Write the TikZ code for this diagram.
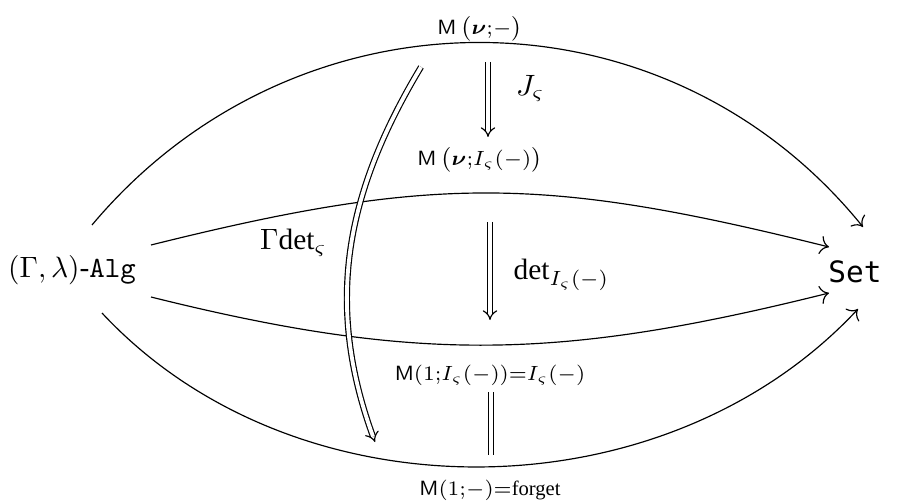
\documentclass[tikz,border=0pt]{standalone}
\usepackage{amsmath}
\usepackage{fontspec}
\setmainfont{Liberation Serif}
\newfontfamily\setfnt{DejaVu Sans Mono}
\usetikzlibrary{arrows.meta}

\tikzset{
  fun/.style={-{To[length=3pt]}},
  nat/.style={double, double distance=1.3pt, -Implies},
  eqn/.style={double, double distance=1.3pt},
  cell/.style={font=\scriptsize, inner sep=1pt},
}

\begin{document}
\begin{tikzpicture}[x=0.34pt,y=0.34pt]
\useasboundingbox (0,0) rectangle (899,502);
% the two categories
\node (alg) at (72,232) {$(\Gamma,\lambda)$-$\mathtt{Alg}$};
\node (set) at (855,230) {\setfnt Set};
% the functors
\node[cell] (mv) at (480,473) {$\mathsf{M}\,\bigl(\boldsymbol{\nu}{;}{-}\bigr)$};
\node[cell] (mvi) at (480,342) {$\mathsf{M}\,\bigl(\boldsymbol{\nu}{;}I_\varsigma(-)\bigr)$};
\node[cell] (m1i) at (490,127) {$\mathsf{M}(1{;}I_\varsigma(-)){=}I_\varsigma(-)$};
\node[cell] (m1) at (490,12) {$\mathsf{M}(1{;}-){=}$forget};
% arrows
\draw[fun] ([shift={(20,45)}]alg.center) to[out=50,in=129,looseness=1.05] ([shift={(8,45)}]set.center);
\draw[fun] ([shift={(79,25)}]alg.center) to[out=14,in=166,looseness=1.1] ([shift={(-26,25)}]set.center);
\draw[fun] ([shift={(79,-27)}]alg.center) to[out=-14,in=194,looseness=1.04] ([shift={(-26,-21)}]set.center);
\draw[fun] ([shift={(30,-43)}]alg.center) to[out=-47,in=227,looseness=0.96] ([shift={(3,-37)}]set.center);
% 2-cells
\draw[nat] ([shift={(8,-33)}]mv.center) -- node[right=6pt,pos=0.35] {$J_\varsigma$} ([shift={(8,23)}]mvi.center);
\draw[nat] ([shift={(10,-62)}]mvi.center) -- node[right=4.5pt,pos=0.54] {$\det_{I_\varsigma(-)}$} ([shift={(0,55)}]m1i.center);
\draw[eqn] ([shift={(1,-17)}]m1i.center) -- ([shift={(1,35)}]m1.center);
\draw[nat] ([shift={(-59,-38)}]mv.center) to[out=239,in=110] node[left=5pt,pos=0.48] {$\Gamma\!\det_\varsigma$} ([shift={(-115,48)}]m1.center);
\end{tikzpicture}
\end{document}
